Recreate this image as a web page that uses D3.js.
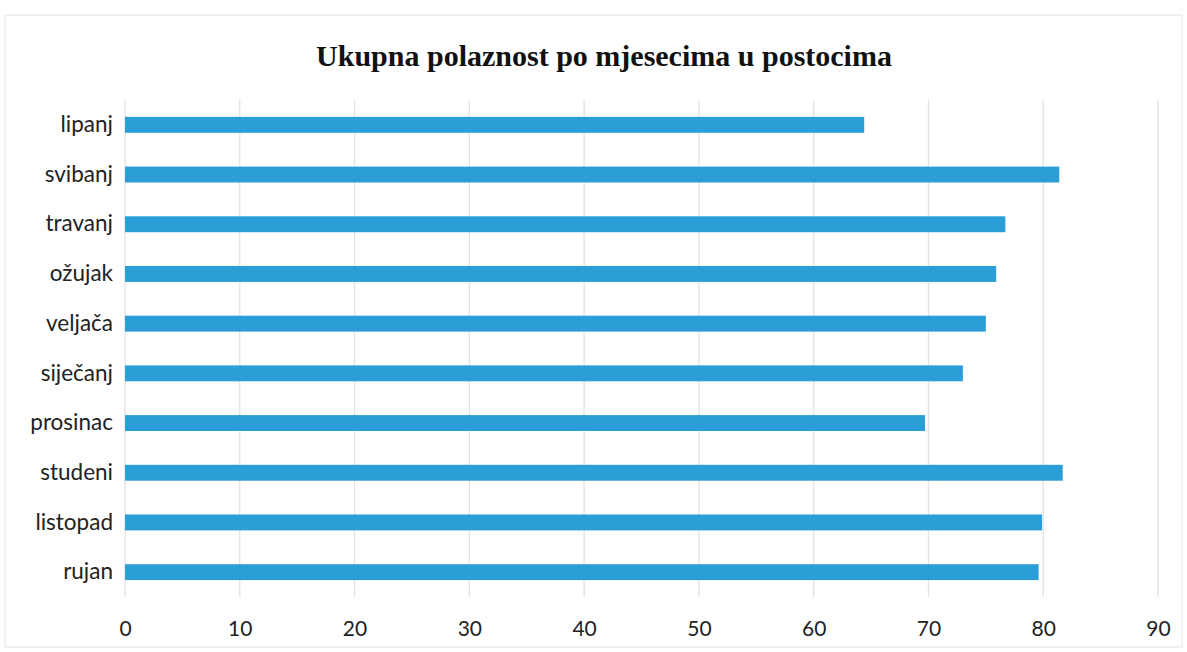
<!DOCTYPE html>
<html>
<head>
<meta charset="utf-8">
<script src="https://cdn.jsdelivr.net/npm/d3@7"></script>
<style>
  body { margin: 0; background: #fff; }
  svg { display: block; }
</style>
</head>
<body>
<script>
// podaci
var mjeseci = ["lipanj", "svibanj", "travanj", "ožujak", "veljača", "siječanj", "prosinac", "studeni", "listopad", "rujan"]
var postoci = [64.4, 81.4, 76.7, 75.9, 75.0, 73.0, 69.7, 81.7, 79.9, 79.6]
var xTicks = [0, 10, 20, 30, 40, 50, 60, 70, 80, 90]
var naslov = "Ukupna polaznost po mjesecima u postocima"

var W = 1187, H = 652
var m = {top: 100, right: 29, bottom: 55, left: 125}

var svg = d3.select("body")
    .append("svg")
    .attr("width", W)
    .attr("height", H)

// okvir skena
svg.append("rect")
    .attr("x", 5).attr("y", 15)
    .attr("width", W - 10).attr("height", H - 20)
    .attr("fill", "none")
    .attr("stroke", "#e4e4e4")

var x = d3.scaleLinear()
    .domain([0, 90])
    .range([m.left, W - m.right])

var y = d3.scaleBand()
    .domain(mjeseci)
    .range([m.top, H - m.bottom])
    .paddingInner(0.68)
    .paddingOuter(0.34)

// mreza
svg.append("g")
    .selectAll("line")
    .data(xTicks)
    .enter()
    .append("line")
    .attr("x1", d => x(d))
    .attr("x2", d => x(d))
    .attr("y1", m.top)
    .attr("y2", H - m.bottom)
    .style("stroke", "#e2e2e2")
    .style("stroke-width", 1.3)

// stupci
svg.append("g")
    .selectAll("rect")
    .data(postoci)
    .enter()
    .append("rect")
    .attr("x", x(0))
    .attr("y", (d, i) => y(mjeseci[i]))
    .attr("width", d => x(d) - x(0))
    .attr("height", y.bandwidth())
    .attr("fill", "#2b9dd7")

// os x
var osX = svg.append("g")
    .attr("transform", "translate(0," + (H - m.bottom) + ")")
    .call(d3.axisBottom(x).tickValues(xTicks).tickSize(0).tickPadding(24))
osX.select(".domain").remove()
osX.selectAll("text")
    .style("font-family", "Lato, 'Open Sans', sans-serif")
    .style("font-size", "21px")
    .style("fill", "#222")

// os y
var osY = svg.append("g")
    .attr("transform", "translate(" + m.left + ",0)")
    .call(d3.axisLeft(y).tickSize(0).tickPadding(12))
osY.select(".domain").remove()
osY.selectAll("text")
    .style("font-family", "Lato, 'Open Sans', sans-serif")
    .style("font-size", "22.5px")
    .style("fill", "#222")

// naslov
svg.append("text")
    .attr("x", 604)
    .attr("y", 66)
    .attr("text-anchor", "middle")
    .style("font-family", "'Liberation Serif', 'Times New Roman', serif")
    .style("font-weight", "bold")
    .style("font-size", "30px")
    .style("fill", "#111")
    .text(naslov)
</script>
</body>
</html>
